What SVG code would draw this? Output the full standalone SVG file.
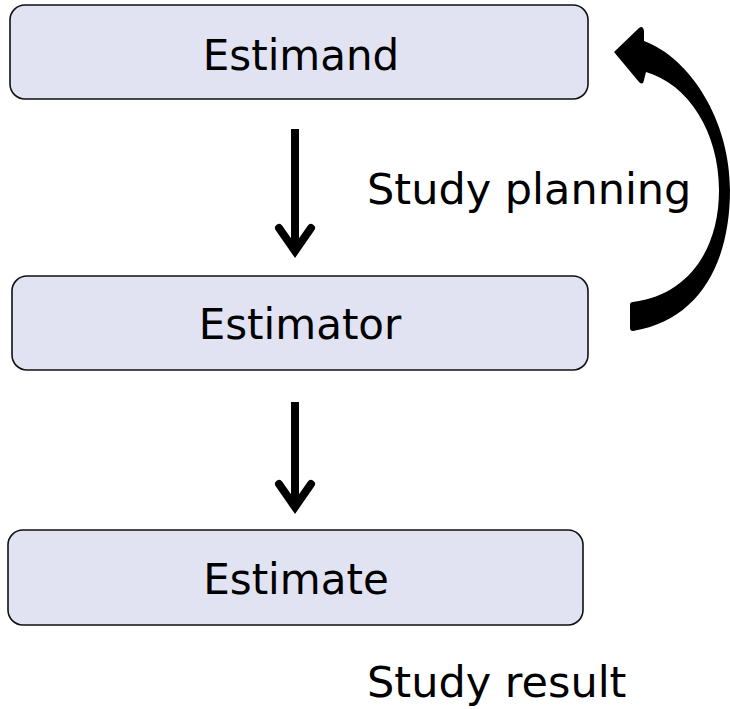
<svg xmlns="http://www.w3.org/2000/svg" width="730" height="709" viewBox="0 0 730 709">
<style>
.box{fill:#e1e3f2;stroke:#111;stroke-width:1.6}
.lbl{font-family:"DejaVu Sans",Verdana,sans-serif;font-size:42px;fill:#000}
.big{font-size:43px}
.shaft{stroke:#000;stroke-width:8;fill:none}
.head{stroke:#000;stroke-width:8;fill:none;stroke-linecap:round;stroke-linejoin:miter}
</style>
<rect width="730" height="709" fill="#fff"/>
<g id="estimand">
<rect class="box" x="10" y="5" width="578" height="94" rx="15"/>
<text class="lbl" x="301" y="70" text-anchor="middle">Estimand</text>
</g>
<g id="estimator">
<rect class="box" x="12" y="276" width="576" height="94" rx="15"/>
<text class="lbl" x="300" y="339" text-anchor="middle">Estimator</text>
</g>
<g id="estimate">
<rect class="box" x="8" y="530" width="575" height="95" rx="15"/>
<text class="lbl" x="296" y="594" text-anchor="middle">Estimate</text>
</g>
<g id="labels">
<text class="lbl big" x="367" y="204">Study planning</text>
<text class="lbl big" x="367" y="697">Study result</text>
</g>
<g id="connectors">
<line class="shaft" x1="295" y1="129" x2="295" y2="250"/>
<polyline class="head" points="279,228 295,251 311,228"/>
<line class="shaft" x1="295" y1="402" x2="295" y2="506"/>
<polyline class="head" points="279,484 295,507 311,484"/>
<path d="M614,52 L639,28 Q643,25 644,31 L644,41 C690,58 730,120 730,190 C730,262 700,320 633,331 Q630,331 630,328 L630,305 Q630,302 633,302 C688,295 719,250 719,190 C719,132 688,84 646,72 L644,80 Q643,86 639,82 Z" fill="#000"/>
</g>
</svg>
